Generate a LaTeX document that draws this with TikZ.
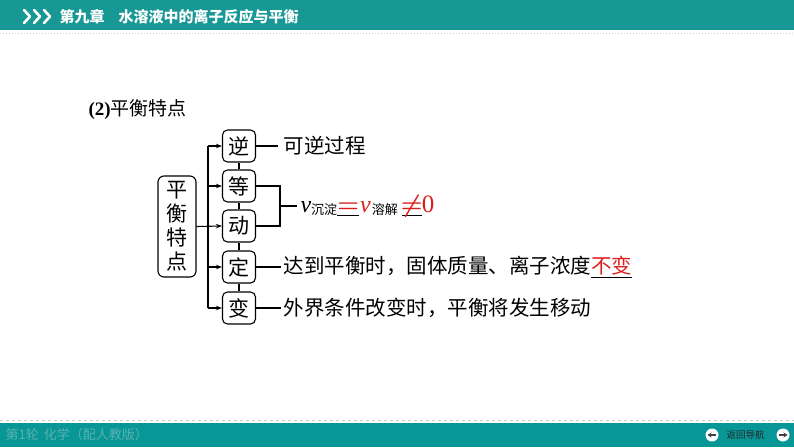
\documentclass[tikz,border=0pt]{standalone}
\usepackage{fontspec}
\setmainfont{Liberation Serif}
\newfontfamily\cjk{Noto Sans CJK SC}
\usetikzlibrary{arrows.meta,calc}
\definecolor{hdr}{RGB}{24,152,148}
\definecolor{ftr}{RGB}{8,150,150}
\definecolor{ftxt}{RGB}{90,178,176}
\definecolor{redt}{RGB}{220,30,30}
\newcommand\ublank[2]{\leavevmode\rlap{\rule[-3.5pt]{#1}{0.8pt}}\makebox[#1]{#2}}
\begin{document}
\begin{tikzpicture}[x=1pt,y=-1pt,
  line width=1.1pt,
  charbox/.style={draw, rounded corners=5pt, minimum width=33pt, minimum height=32pt, inner sep=0pt, font=\fontsize{21}{21}\cjk},
  bigbox/.style={draw, rounded corners=6pt, minimum width=38pt, minimum height=101pt, inner sep=0pt, align=center, font=\fontsize{21}{24}\cjk},
  txt/.style={anchor=west, inner ysep=0pt, font=\fontsize{20.5}{21}\cjk},
  arr/.style={-{Stealth[length=6pt,width=4.5pt]}}]
\useasboundingbox (0,0) rectangle (794,447);
% header
\fill[hdr] (0,0) rectangle (794,30);
\draw[gray!40, line width=1pt, dotted] (0,33) -- (794,33);
\foreach \i in {0,1,2}{
  \draw[white, line width=2.6pt, line cap=round, line join=round] (24+10*\i,10) -- (30+10*\i,16.5) -- (24+10*\i,23);
}
\node[anchor=west, white, inner sep=0pt, font=\fontsize{15}{15}\cjk\bfseries] (head) at (59,16.5) {第九章\hspace{14pt}水溶液中的离子反应与平衡};
% footer
\draw[gray!40, line width=0.8pt, dashed] (0,420) -- (794,420);
\fill[ftr] (0,423) rectangle (794,447);
\node[anchor=west, ftxt, inner sep=0pt, font=\fontsize{13}{13}\cjk] (foot) at (5,435) {第1轮\hspace{5pt}化学（配人教版）};
\coordinate (prevb) at (712,435);
\coordinate (nextb) at (783,435);
\fill[white] (prevb) circle (6.5pt);
\fill[white] (nextb) circle (6.5pt);
\draw[black!75, line width=1.4pt, -{Stealth[length=4pt,width=5pt]}] ($(prevb)+(4,0)$) -- ($(prevb)+(-4.5,0)$);
\node[anchor=west, black!85, inner sep=0pt, font=\fontsize{9.5}{10}\cjk] (navt) at (726,435) {返回导航};
\draw[black!75, line width=1.4pt, -{Stealth[length=4pt,width=5pt]}] ($(nextb)+(-4,0)$) -- ($(nextb)+(4.5,0)$);
% title
\node[anchor=west, inner sep=0pt, font=\fontsize{19}{19}\selectfont] (title) at (88,110) {\textbf{(2)}{\cjk 平衡特点}};
% boxes
\node[bigbox] (big) at (177,226.5) {平\\衡\\特\\点};
\node[charbox] (ni) at (239,146) {逆};
\node[charbox] (deng) at (239,186) {等};
\node[charbox] (dong) at (239,226) {动};
\node[charbox] (ding) at (239,267) {定};
\node[charbox] (bian) at (239,308) {变};
\coordinate (tk) at (208,0);
\draw (ni.west -| tk) -- (bian.west -| tk);
\foreach \b in {ni,deng,ding,bian}{\draw[arr] (\b.west -| tk) -- (\b.west);}
\draw[arr] (big.east) -- (dong.west);
\draw (ni.south) -- (deng.north);
\draw (deng.south) -- (dong.north);
\draw (dong.south) -- (ding.north);
\draw (ding.south) -- (bian.north);
% right texts
\node[txt, inner xsep=5pt] (t1) at (278,146) {可逆过程};
\coordinate (brk) at (280,206);
\draw (deng.east) -| (brk) |- (dong.east);
\node[anchor=west, inner xsep=3pt, inner ysep=0pt] (t3) at (297,206) {{\fontsize{24}{24}\selectfont\textit{v}}\raisebox{-2pt}{\fontsize{13}{13}\cjk 沉淀}\ublank{22pt}{\textcolor{redt}{\fontsize{28}{28}\selectfont\boldmath$=$}}\hspace{1pt}{\fontsize{24}{24}\selectfont\textcolor{redt}{\textit{v}}}\hspace{1pt}\raisebox{-2pt}{\fontsize{13}{13}\cjk 溶解}\hspace{4pt}\ublank{20pt}{\textcolor{redt}{\fontsize{26}{26}\selectfont\boldmath$\neq$}}\textcolor{redt}{\fontsize{25}{25}\selectfont 0}};
\draw (brk) -- (t3.west);
\node[txt, inner xsep=2pt] (t4) at (281,267) {达到平衡时，固体质量、离子浓度\underline{\textcolor{redt}{不变}}};
\node[txt, inner xsep=2pt] (t5) at (281,308) {外界条件改变时，平衡将发生移动};
\draw (ni.east) -- (t1.west);
\draw (ding.east) -- (t4.west);
\draw (bian.east) -- (t5.west);
\end{tikzpicture}
\end{document}
